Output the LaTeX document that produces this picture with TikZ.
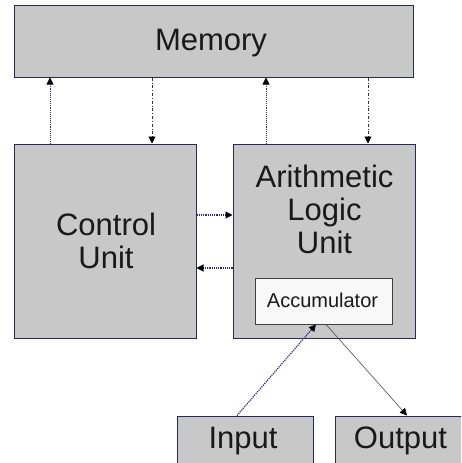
\documentclass[tikz,border=0pt]{standalone}
\usepackage{fontspec}
\setmainfont{Liberation Sans}
\usetikzlibrary{arrows.meta}
\definecolor{boxfill}{RGB}{200,200,200}
\definecolor{boxline}{RGB}{40,40,90}
\definecolor{accfill}{RGB}{248,248,248}
\definecolor{linkblue}{RGB}{40,40,130}
\tikzset{
  unitbox/.style={draw=boxline, line width=1pt, fill=boxfill, inner sep=0pt},
  accbox/.style={draw=black!75, line width=0.8pt, fill=accfill, inner sep=0pt},
  lbl/.style={anchor=base, inner sep=0pt, text=black!90, font=\fontsize{31}{33}\selectfont},
  smalllbl/.style={anchor=base, inner sep=0pt, text=black!90, font=\fontsize{20}{22}\selectfont},
  tip/.style={-{Triangle[length=7pt,width=7pt,color=black]}},
  upline/.style={tip, draw=linkblue, line width=0.9pt, densely dotted},
  downline/.style={tip, draw=black!80, line width=0.7pt, dash dot},
  sideline/.style={tip, draw=linkblue, line width=1.2pt, densely dotted},
}
\begin{document}
\begin{tikzpicture}[x=1pt,y=-1pt]
\useasboundingbox (0,0) rectangle (461,463);
\clip (0,0) rectangle (461,463);
% boxes
\node[unitbox, minimum width=399pt, minimum height=72pt] (mem) at (213.5,41) {};
\node[unitbox, minimum width=182pt, minimum height=194pt] (cu) at (105,241) {};
\node[unitbox, minimum width=182pt, minimum height=194pt] (alu) at (324,241) {};
\node[accbox, minimum width=137pt, minimum height=46pt] (acc) at (323.5,301) {};
\node[unitbox, minimum width=136pt, minimum height=60pt] (in) at (245,446) {};
\node[unitbox, minimum width=136pt, minimum height=60pt] (out) at (403,446) {};
% labels
\node[lbl] (memt) at (211,50) {Memory};
\node[lbl] (cut1) at (106,235) {Control};
\node[lbl] (cut2) at (106,268) {Unit};
\node[lbl] (alut1) at (324.5,187) {Arithmetic};
\node[lbl] (alut2) at (324.5,220) {Logic};
\node[lbl] (alut3) at (324.5,253) {Unit};
\node[smalllbl] (acct) at (322.5,307) {Accumulator};
\node[lbl] (int) at (243,448) {Input};
\node[lbl] (outt) at (400.5,448) {Output};
% connectors
\draw[upline] (cu.north -| 50,0) -- (mem.south -| 50,0);
\draw[downline] (mem.south -| 152,0) -- (cu.north -| 152,0);
\draw[upline] (alu.north -| 266,0) -- (mem.south -| 266,0);
\draw[downline] (mem.south -| 368,0) -- (alu.north -| 368,0);
\draw[sideline] (cu.east |- 0,215) -- (alu.west |- 0,215);
\draw[sideline] (alu.west |- 0,268) -- (cu.east |- 0,268);
\draw[tip, draw=linkblue, line width=1.2pt, densely dotted] (in.north -| 237,0) -- (acc.south -| 316,0);
\draw[tip, draw=black!70, line width=0.6pt] (acc.south -| 326,0) -- (out.north -| 407,0);
\end{tikzpicture}
\end{document}
